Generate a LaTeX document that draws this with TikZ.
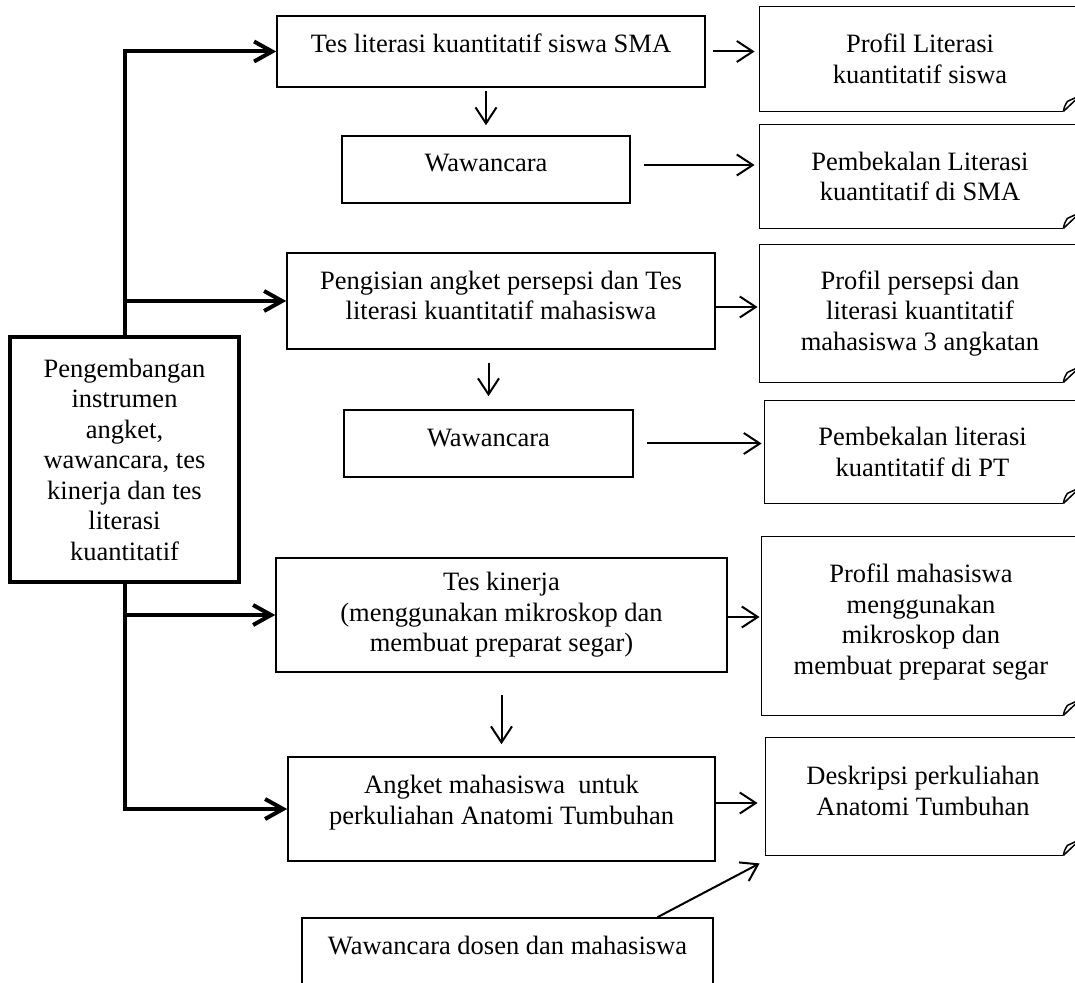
\documentclass[tikz,border=0pt]{standalone}
\usepackage{fontspec}
\setmainfont{Liberation Serif}
\usetikzlibrary{arrows.meta}
\newcommand\lift[1]{\rule[-#1]{0pt}{#1}}
\begin{document}
\begin{tikzpicture}[x=0.5pt,y=-0.5pt,
  every node/.style={font=\fontsize{13.25pt}{15.25pt}\selectfont, align=center, inner sep=0pt, rectangle},
  box/.style={draw, line width=0.8pt},
  thickbox/.style={draw, line width=2pt},
  docline/.style={line width=0.75pt},
  trunk/.style={line width=2pt, -{Straight Barb[length=9pt,width=10pt]}},
  arr/.style={line width=1pt, -{Straight Barb[length=8pt,width=10.5pt]}},
]
\useasboundingbox (0,0) rectangle (1075,983);
\clip (0,0) rectangle (1075,983);

% left main box
\node[thickbox, minimum width=114.5pt, minimum height=122.5pt] (L) at (124.5,459.5)
  {Pengembangan\\instrumen\\angket,\\wawancara, tes\\kinerja dan tes\\literasi\\kuantitatif};

% middle column
\node[box, minimum width=214pt, minimum height=35.5pt] (B1) at (491,51.5)
  {Tes literasi kuantitatif siswa SMA\lift{8.5pt}};
\node[box, minimum width=144pt, minimum height=33.5pt] (W1) at (486,169.5)
  {Wawancara\lift{7pt}};
\node[box, minimum width=214pt, minimum height=48pt] (P) at (501,301)
  {Pengisian angket persepsi dan Tes\\literasi kuantitatif mahasiswa\lift{5.5pt}};
\node[box, minimum width=144.5pt, minimum height=33.5pt] (W2) at (488.5,443.5)
  {Wawancara\lift{6pt}};
\node[box, minimum width=225.5pt, minimum height=57pt] (TK) at (501.5,615)
  {Tes kinerja\\(menggunakan mikroskop dan\\membuat preparat segar)};
\node[box, minimum width=213.5pt, minimum height=52pt] (A) at (501.5,809)
  {Angket mahasiswa\ \ untuk\\perkuliahan Anatomi Tumbuhan\lift{9pt}};
\node[box, minimum width=205.5pt, minimum height=41pt] (WD) at (507.5,959)
  {Wawancara dosen dan mahasiswa\lift{14pt}};

% right column (folded-corner documents)
\node[minimum width=160pt, minimum height=52pt] (R1) at (920,59)
  {Profil Literasi\\kuantitatif siswa};
\node[minimum width=160pt, minimum height=51.5pt] (R2) at (920,176.5)
  {Pembekalan Literasi\\kuantitatif di SMA};
\node[minimum width=160pt, minimum height=68.5pt] (R3) at (920,313.5)
  {Profil persepsi dan\\literasi kuantitatif\\mahasiswa 3 angkatan};
\node[minimum width=157.5pt, minimum height=51pt] (R4) at (922.5,452)
  {Pembekalan literasi\\kuantitatif di PT};
\node[minimum width=159pt, minimum height=89pt] (R5) at (921,626)
  {Profil mahasiswa\\menggunakan\\mikroskop dan\\membuat preparat segar\lift{7pt}};
\node[minimum width=157pt, minimum height=58.5pt] (R6) at (923,796.5)
  {Deskripsi perkuliahan\\Anatomi Tumbuhan\lift{5.5pt}};

\foreach \n in {R1,R2,R3,R4,R5,R6}{
  \draw[docline] ([xshift=-8.5pt]\n.south east) -- (\n.south west) -- (\n.north west) -- (\n.north east);
  \draw[docline] ([xshift=-8.5pt]\n.south east) -- ([yshift=8pt]\n.south east);
  \draw[docline] ([xshift=-8.5pt]\n.south east) .. controls ([xshift=-8pt,yshift=2.5pt]\n.south east) .. ([xshift=-6.5pt,yshift=5pt]\n.south east) -- ([yshift=8pt]\n.south east);
}

% trunk connectors
\draw[trunk] (L.north) |- (B1.west);
\draw[trunk] (L.north |- P.west) -- (P.west);
\draw[trunk] (L.south) |- (A.west);
\draw[trunk] (L.south |- TK.west) -- (TK.west);

% right-going arrows
\draw[arr, shorten <=3.5pt, shorten >=2.5pt] (B1.east) -- (B1.east -| R1.west);
\coordinate (w1o) at ([yshift=2.25pt]W1.east);
\draw[arr, shorten <=6.5pt, shorten >=2.5pt] (w1o) -- (w1o -| R2.west);
\coordinate (po) at ([yshift=-3pt]P.east);
\draw[arr, shorten >=1pt] (po) -- (po -| R3.west);
\draw[arr, shorten <=6.5pt, shorten >=1.5pt] (W2.east) -- (W2.east -| R4.west);
\coordinate (tko) at ([yshift=-1pt]TK.east);
\draw[arr, shorten >=1pt] (tko) -- (tko -| R5.west);
\coordinate (ao) at ([yshift=3pt]A.east);
\draw[arr, shorten >=4pt] (ao) -- (ao -| R6.west);

% down arrows
\draw[arr, shorten <=1.5pt, shorten >=5pt] (B1.south -| W1.north) -- (W1.north);
\draw[arr, shorten <=6.5pt, shorten >=6.5pt] (P.south -| W2.north) -- (W2.north);
\draw[arr, shorten <=11pt, shorten >=6pt] (TK.south -| A.north) -- (A.north);

% diagonal arrow
\draw[arr] ([xshift=75pt]WD.north) -- ([xshift=-3pt,yshift=-4pt]R6.south west);
\end{tikzpicture}
\end{document}
